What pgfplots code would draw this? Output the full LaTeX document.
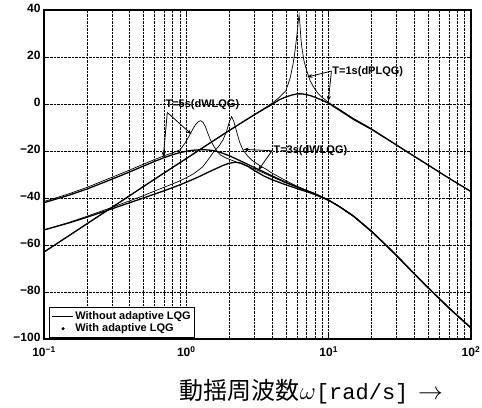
\documentclass[border=0pt]{standalone}
\usepackage{fontspec}
\setmainfont{Liberation Sans}
\setmonofont{Liberation Mono}
\newfontfamily\jp{Noto Sans CJK JP}
\usepackage{pgfplots}
\pgfplotsset{compat=1.18}
\usepackage{pgfplotstable}
\usetikzlibrary{arrows.meta}

% T=5s without adaptive LQG
\pgfplotstableread{
w db
0.1 -41.5
0.15 -38.2
0.2 -35.5
0.3 -31.2
0.4 -28.1
0.5 -25.6
0.6 -23.6
0.7 -22.0
0.8 -20.8
0.9 -19.6
0.97 -17.0
1.02 -14.8
1.065 -12.8
1.11 -10.7
1.16 -8.8
1.21 -7.6
1.26 -7.1
1.31 -7.8
1.36 -9.6
1.41 -12.2
1.47 -15.0
1.56 -18.0
1.65 -20.3
1.75 -21.8
1.9 -23.0
2.1 -24.0
2.4 -25.3
3 -27.6
3.5 -29.4
4 -31.0
5 -33.6
6 -35.4
7 -36.9
8 -38.2
10 -40.9
12 -43.8
15 -47.8
20 -54.2
25 -59.8
30 -64.5
40 -72.3
50 -78.2
70 -86.8
100 -95.3
}\tFiveN
% T=5s with adaptive LQG
\pgfplotstableread{
w db
0.1 -42.0
0.15 -38.8
0.2 -36.2
0.3 -32.0
0.4 -28.9
0.5 -26.4
0.6 -24.4
0.7 -22.8
0.8 -21.6
0.9 -20.7
1.0 -20.1
1.1 -19.7
1.3 -19.4
1.5 -19.7
1.7 -20.4
2.0 -22.0
2.4 -24.2
3 -27.0
3.5 -28.9
4 -30.6
5 -33.3
6 -35.3
7 -36.9
8 -38.2
10 -40.9
12 -43.8
15 -47.8
20 -54.2
25 -59.8
30 -64.5
40 -72.3
50 -78.2
70 -86.8
100 -95.3
}\tFiveW
% T=3s without adaptive LQG
\pgfplotstableread{
w db
0.1 -53.6
0.15 -50.4
0.2 -47.8
0.3 -44.0
0.4 -41.2
0.5 -39.0
0.6 -37.0
0.7 -35.4
0.8 -34.0
0.9 -32.7
1.0 -31.4
1.13 -29.6
1.3 -26.8
1.45 -23.0
1.55 -20.5
1.7 -17.8
1.81 -15.3
1.92 -11.5
2.0 -7.8
2.08 -5.4
2.15 -7.2
2.25 -11.5
2.37 -16.3
2.5 -19.5
2.7 -22.2
2.87 -23.8
3.2 -25.8
3.6 -27.6
4 -29.4
5 -32.6
6 -35.0
7 -36.7
8 -38.1
10 -40.9
12 -43.8
15 -47.8
20 -54.2
25 -59.8
30 -64.5
40 -72.3
50 -78.2
70 -86.8
100 -95.3
}\tThreeN
% T=3s with adaptive LQG
\pgfplotstableread{
w db
0.1 -53.6
0.15 -50.6
0.2 -48.2
0.3 -44.6
0.4 -42.0
0.5 -40.0
0.6 -38.3
0.7 -36.9
0.8 -35.6
0.9 -34.4
1.0 -33.3
1.2 -31.2
1.5 -28.4
1.8 -26.2
2.0 -25.2
2.2 -24.8
2.4 -25.1
2.7 -26.5
3.0 -28.3
3.5 -30.6
4 -32.2
5 -34.4
6 -36.0
7 -37.3
8 -38.5
10 -41.0
12 -43.8
15 -47.8
20 -54.2
25 -59.8
30 -64.5
40 -72.3
50 -78.2
70 -86.8
100 -95.3
}\tThreeW
% T=1s without adaptive LQG
\pgfplotstableread{
w db
0.1 -63.0
0.15 -56.0
0.2 -51.0
0.3 -44.0
0.4 -39.0
0.5 -35.1
0.7 -29.3
1.0 -23.2
1.5 -16.2
2.0 -11.3
2.5 -7.6
3.0 -4.6
3.5 -2.0
4.0 0.3
4.5 2.8
5.0 5.6
5.36 11.0
5.6 16.5
5.8 22.5
6.0 30.0
6.12 35.5
6.2 37.8
6.28 34.0
6.38 28.0
6.47 24.4
6.7 18.5
6.98 14.5
7.4 10.0
7.8 7.4
8.4 4.6
9.0 2.8
9.6 1.5
10 0.6
12 -2.4
15 -6.2
20 -10.5
30 -17.4
40 -22.2
50 -25.9
70 -31.5
100 -37.2
}\tOneN
% T=1s with adaptive LQG
\pgfplotstableread{
w db
0.1 -63.0
0.15 -56.0
0.2 -51.0
0.3 -44.0
0.4 -39.0
0.5 -35.1
0.7 -29.3
1.0 -23.2
1.5 -16.2
2.0 -11.3
2.5 -7.6
3.0 -4.6
3.5 -2.2
4.0 -0.2
4.5 1.8
5.0 3.0
5.5 3.8
6.0 4.3
6.5 4.3
7.0 4.0
7.5 3.5
8.0 2.9
9.0 1.6
10 0.3
12 -2.8
15 -6.6
20 -10.8
30 -17.5
40 -22.3
50 -26.0
70 -31.6
100 -37.3
}\tOneW

\begin{document}
\begin{tikzpicture}
\begin{axis}[
  name=ax, at={(0,0)}, anchor=south west,
  scale only axis, width=427bp, height=329bp,
  xmode=log, xmin=0.1, xmax=100, ymin=-100, ymax=40,
  xtick={0.1,1,10,100},
  xticklabels={10\textsuperscript{−1},10\textsuperscript{0},10\textsuperscript{1},10\textsuperscript{2}},
  ytick={-100,-80,-60,-40,-20,0,20,40},
  yticklabels={−100,−80,−60,−40,−20,0,20,40},
  grid=both,
  major grid style={densely dotted, black, line width=0.6pt},
  minor grid style={densely dotted, black, line width=0.6pt},
  tick align=inside, major tick length=4bp, minor tick length=2bp,
  tick style={black, line width=0.6pt},
  axis line style={black, line width=1.1pt},
  ticklabel style={font=\fontsize{12bp}{14bp}\selectfont\bfseries},
  xticklabel style={yshift=-4bp},
  yticklabel style={yshift=2bp},
  legend style={at={(0.012,0.004)}, anchor=south west, draw=black, line width=0.6pt,
    font=\fontsize{11bp}{13bp}\selectfont\bfseries, inner sep=2pt, row sep=-1pt,
    cells={anchor=west}},
]
\addplot[black, line width=0.7pt, legend image code/.code={\draw[line width=0.7pt] (0,0) -- (0.75cm,0);}] table[x=w,y=db] {\tFiveN};
\addlegendentry{Without adaptive LQG}
\addplot[black, line width=1.3pt, legend image code/.code={\fill (0.4cm,0) circle (0.8pt);}] table[x=w,y=db] {\tFiveW};
\addlegendentry{With adaptive LQG}
\addplot[black, line width=0.7pt, forget plot] table[x=w,y=db] {\tThreeN};
\addplot[black, line width=1.3pt, forget plot] table[x=w,y=db] {\tThreeW};
\addplot[black, line width=0.7pt, forget plot] table[x=w,y=db] {\tOneN};
\addplot[black, line width=1.3pt, forget plot] table[x=w,y=db] {\tOneW};

% annotations
\node[anchor=west, inner sep=0, font=\fontsize{11bp}{12bp}\selectfont\bfseries] at (axis cs:0.712,-0.4) {T=5s(dWLQG)};
\draw[-{Stealth[length=5bp,width=4bp]}, line width=0.8pt] (axis cs:0.735,-3.6) -- (axis cs:0.689,-22.5);
\draw[-{Stealth[length=5bp,width=4bp]}, line width=0.8pt] (axis cs:0.735,-3.6) -- (axis cs:1.084,-12.8);

\node[anchor=west, inner sep=0, font=\fontsize{11bp}{12bp}\selectfont\bfseries] at (axis cs:10.6,13.6) {T=1s(dPLQG)};
\draw[-{Stealth[length=5bp,width=4bp]}, line width=0.8pt] (axis cs:10.45,14) -- (axis cs:7.09,11.5);
\draw[-{Stealth[length=5bp,width=4bp]}, line width=0.8pt] (axis cs:10.45,14) -- (axis cs:9.95,1.3);

\node[anchor=west, inner sep=0, font=\fontsize{11bp}{12bp}\selectfont\bfseries] at (axis cs:4.09,-19.8) {T=3s(dWLQG)};
\draw[-{Stealth[length=5bp,width=4bp]}, line width=0.8pt] (axis cs:4.0,-19.9) -- (axis cs:2.53,-19.3);
\draw[-{Stealth[length=5bp,width=4bp]}, line width=0.8pt] (axis cs:4.0,-19.9) -- (axis cs:3.21,-28.1);
\end{axis}
\node[anchor=east, inner sep=0, font=\fontsize{24bp}{28bp}\selectfont] at (399bp,-53bp)
  {{\jp 動揺周波数}$\omega${\ttfamily\fontsize{22bp}{26bp}\selectfont [rad/s]}\hspace{0.4em}$\rightarrow$};
\pgfresetboundingbox
\useasboundingbox (-44bp,-69bp) rectangle (438bp,339bp);
\end{tikzpicture}
\end{document}
